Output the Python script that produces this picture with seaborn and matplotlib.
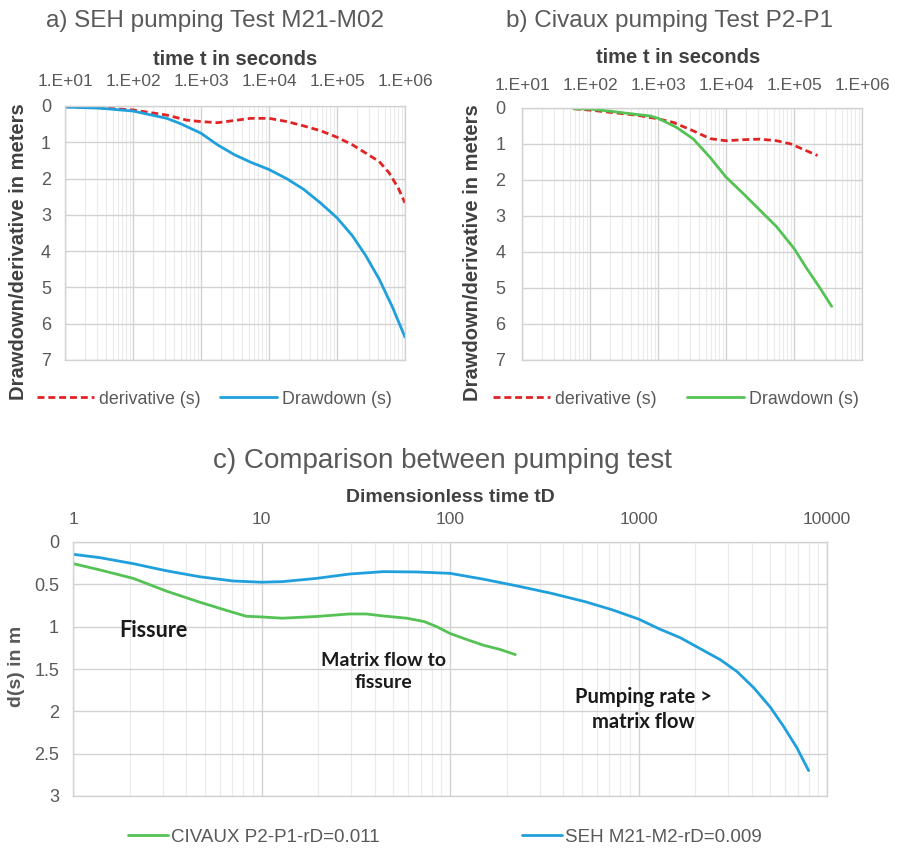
import numpy as np
import pandas as pd
import matplotlib
matplotlib.use("Agg")
import matplotlib.pyplot as plt
import seaborn as sns
from matplotlib.ticker import LogLocator, NullFormatter

# ---------------- data ----------------
# a) SEH pumping test M21-M02 (time in s, values in m)
seh_t_drawdown = [10, 32.7, 101, 313, 490, 1000, 1750, 3080, 5390, 10000, 18500, 32500, 57000, 100000, 169000, 266000, 417000, 653000, 1000000]
seh_drawdown = [0.03, 0.06, 0.14, 0.34, 0.48, 0.75, 1.07, 1.34, 1.55, 1.75, 2.01, 2.30, 2.67, 3.08, 3.58, 4.13, 4.77, 5.54, 6.37]
seh_t_deriv = [10, 32.7, 101, 313, 617, 1000, 1750, 3080, 5390, 10000, 18500, 32500, 57000, 100000, 169000, 266000, 417000, 582000, 795000, 1000000]
seh_deriv = [0.02, 0.05, 0.11, 0.25, 0.39, 0.43, 0.46, 0.40, 0.34, 0.34, 0.43, 0.55, 0.68, 0.86, 1.07, 1.30, 1.53, 1.84, 2.26, 2.67]

# b) Civaux pumping test P2-P1
civ_t_drawdown = [57.5, 101, 199, 490, 763, 1000, 1880, 3300, 5820, 10000, 18000, 31600, 55600, 100000, 153000, 241000, 358000]
civ_drawdown = [0.02, 0.03, 0.09, 0.18, 0.22, 0.285, 0.54, 0.86, 1.37, 1.92, 2.38, 2.84, 3.30, 3.90, 4.45, 5.00, 5.51]
civ_t_deriv = [57.5, 101, 250, 490, 1000, 1680, 3300, 5820, 10000, 18000, 31600, 55600, 90400, 141000, 222000]
civ_deriv = [0.02, 0.06, 0.14, 0.20, 0.30, 0.40, 0.635, 0.85, 0.91, 0.88, 0.865, 0.91, 1.00, 1.16, 1.32]

# c) comparison in dimensionless time
cmp_td_civaux = [1, 1.39, 2.09, 3.13, 4.69, 7.03, 8.3, 10, 12.9, 19.5, 29.4, 36, 44.4, 59, 73, 85, 100, 122, 151, 185, 222]
cmp_ds_civaux = [0.255, 0.33, 0.43, 0.58, 0.71, 0.83, 0.877, 0.885, 0.90, 0.88, 0.85, 0.85, 0.874, 0.90, 0.94, 1.00, 1.08, 1.15, 1.22, 1.27, 1.33]
cmp_td_seh = [1, 1.39, 2.09, 3.13, 4.69, 7.03, 10, 12.9, 19.5, 29.4, 44.4, 66.8, 100, 151, 228, 345, 521, 724, 1000, 1300, 1664, 2125, 2715, 3330, 4080, 5000, 5890, 6920, 7990]
cmp_ds_seh = [0.145, 0.185, 0.256, 0.34, 0.41, 0.46, 0.475, 0.468, 0.43, 0.378, 0.35, 0.354, 0.37, 0.44, 0.52, 0.606, 0.705, 0.80, 0.91, 1.03, 1.13, 1.26, 1.39, 1.53, 1.72, 1.95, 2.18, 2.43, 2.70]

time_ticks = [1e1, 1e2, 1e3, 1e4, 1e5, 1e6]
time_tick_labels = ["1.E+01", "1.E+02", "1.E+03", "1.E+04", "1.E+05", "1.E+06"]
ab_yticks = [0, 1, 2, 3, 4, 5, 6, 7]
td_ticks = [1, 10, 100, 1000, 10000]
td_tick_labels = ["1", "10", "100", "1000", "10000"]
c_yticks = [0, 0.5, 1, 1.5, 2, 2.5, 3]
c_ytick_labels = ["0", "0.5", "1", "1.5", "2", "2.5", "3"]

annotations = [("Fissure", 2.66, 1.04), ("Matrix flow to\nfissure", 44.4, 1.53), ("Pumping rate >\nmatrix flow", 1066, 1.975)]

RED = "#e02424"
BLUE = "#1fa0dc"
GREEN = "#55c255"
TXT = "#595959"
DARK = "#404040"

sns.set_theme(style="white")
plt.rcParams['font.family'] = ['Liberation Sans', 'DejaVu Sans']

W, H = 897, 849
fig = plt.figure(figsize=(W / 100, H / 100), dpi=100)


def axes_px(l, t, r, b):
    return fig.add_axes([l / W, 1 - b / H, (r - l) / W, (b - t) / H])


def style(ax, xlim, xticks, xlabels, ylim, yticks, ylabels, xfs, yfs, xpad, ypad):
    ax.set_xscale('log')
    ax.set_xlim(*xlim)
    ax.set_ylim(ylim[1], ylim[0])
    ax.xaxis.tick_top()
    ax.xaxis.set_label_position('top')
    ax.set_xticks(xticks, xlabels)
    ax.set_yticks(yticks, ylabels)
    ax.xaxis.set_minor_locator(LogLocator(base=10, subs=np.arange(2, 10), numticks=20))
    ax.xaxis.set_minor_formatter(NullFormatter())
    ax.tick_params(which='both', length=0)
    ax.tick_params(axis='x', labelsize=xfs, labelcolor=TXT, pad=xpad)
    ax.tick_params(axis='y', labelsize=yfs, labelcolor=TXT, pad=ypad)
    ax.grid(which='major', color='#d2d2d2', lw=1.0)
    ax.grid(which='minor', axis='x', color='#ebebeb', lw=0.8)
    ax.set_axisbelow(True)
    for s in ax.spines.values():
        s.set_color('#d2d2d2')
        s.set_linewidth(1.0)


# ---------- panel a ----------
axa = axes_px(65, 106, 405, 360)
style(axa, (1e1, 1e6), time_ticks, time_tick_labels, (0, 7), ab_yticks, [str(v) for v in ab_yticks], 12.5, 13, 12, 10)
sns.lineplot(x=seh_t_deriv, y=seh_deriv, ax=axa, color=RED, lw=2.0, sort=False, estimator=None,
             label="derivative (s)")
axa.lines[-1].set_dashes((2.5, 1.4))
sns.lineplot(x=seh_t_drawdown, y=seh_drawdown, ax=axa, color=BLUE, lw=2.0, sort=False, estimator=None,
             label="Drawdown (s)")

# ---------- panel b ----------
axb = axes_px(522, 108, 862, 360)
style(axb, (1e1, 1e6), time_ticks, time_tick_labels, (0, 7), ab_yticks, [str(v) for v in ab_yticks], 12.5, 13, 11, 12)
sns.lineplot(x=civ_t_deriv, y=civ_deriv, ax=axb, color=RED, lw=2.0, sort=False, estimator=None,
             label="derivative (s)")
axb.lines[-1].set_dashes((2.5, 1.4))
sns.lineplot(x=civ_t_drawdown, y=civ_drawdown, ax=axb, color=GREEN, lw=2.0, sort=False, estimator=None,
             label="Drawdown (s)")

for ax, yl_x in ((axa, -0.110), (axb, -0.119)):
    ax.set_xlabel("time t in seconds", fontsize=14.5, fontweight='bold', color=DARK)
    ax.set_ylabel("Drawdown/derivative in meters", fontsize=14.5, fontweight='bold', color=DARK)
    ax.yaxis.set_label_coords(yl_x, 0.425)

axa.xaxis.set_label_coords(0.5, (360 - 65) / 254)
axb.xaxis.set_label_coords(0.46, (360 - 63.3) / 252)
for ax in (axa, axb):
    ax.xaxis.label.set_va('baseline')

for ax, x0, cs in ((axa, 37, 1.12), (axb, 493, 1.7)):
    h, l = ax.get_legend_handles_labels()
    ax.legend(h, l, loc='center left', bbox_to_anchor=(x0 / W, 1 - 399 / H), bbox_transform=fig.transFigure,
              ncol=2, frameon=False, fontsize=12.8, labelcolor=TXT, handlelength=3.2, handletextpad=0.28,
              columnspacing=cs, borderpad=0, borderaxespad=0)

fig.text(215 / W, 1 - 26.7 / H, "a) SEH pumping Test M21-M02", ha='center', va='baseline', fontsize=17.5, color=TXT)
fig.text(669 / W, 1 - 26.7 / H, "b) Civaux pumping Test P2-P1", ha='center', va='baseline', fontsize=17.5, color=TXT)

# ---------- panel c ----------
axc = axes_px(73, 542, 827, 796)
style(axc, (1, 10000), td_ticks, td_tick_labels, (0, 3), c_yticks, c_ytick_labels, 12.5, 13, 11, 10)
sns.lineplot(x=cmp_td_civaux, y=cmp_ds_civaux, ax=axc, color=GREEN, lw=2.0, sort=False, estimator=None,
             label="CIVAUX P2-P1-rD=0.011")
sns.lineplot(x=cmp_td_seh, y=cmp_ds_seh, ax=axc, color=BLUE, lw=2.0, sort=False, estimator=None,
             label="SEH M21-M2-rD=0.009")
axc.set_xlabel("Dimensionless time tD", fontsize=14, fontweight='bold', color=DARK)
axc.xaxis.set_label_coords(0.5, (796 - 501.7) / 254)
axc.xaxis.label.set_va('baseline')
axc.set_ylabel("d(s) in m", fontsize=14, fontweight='bold', color=TXT)
axc.yaxis.set_label_coords(-0.063, 0.51)
h, l = axc.get_legend_handles_labels()
axc.legend(h, l, loc='center left', bbox_to_anchor=(128 / W, 1 - 837 / H), bbox_transform=fig.transFigure,
           ncol=2, frameon=False, fontsize=13.5, labelcolor=TXT, handlelength=2.13, handletextpad=0.15,
           columnspacing=7.6, borderpad=0, borderaxespad=0)
for (txt, xv, yv), fs in zip(annotations, (15.5, 14, 14.5)):
    axc.text(xv, yv, txt, ha='center', va='center', fontsize=fs, fontweight='bold', color='#1a1a1a',
             family=['Lato', 'DejaVu Sans'], linespacing=1.3)

fig.text(442 / W, 1 - 468 / H, "c) Comparison between pumping test", ha='center', va='baseline', fontsize=20, color=TXT)

fig.savefig("out.png", dpi=100, facecolor='white')
